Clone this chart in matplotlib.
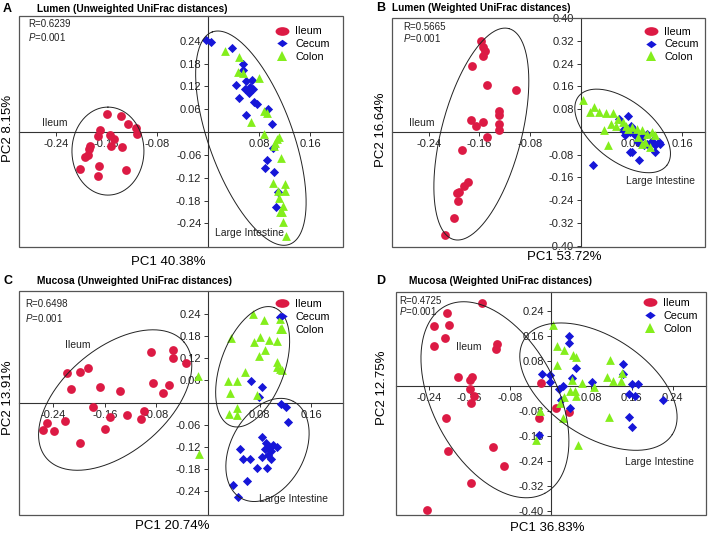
import numpy as np
import matplotlib
matplotlib.use('Agg')
import matplotlib.pyplot as plt
from matplotlib.path import Path
from matplotlib.lines import Line2D
from matplotlib.patches import Rectangle

plt.rcParams['font.family'] = ['Liberation Sans', 'DejaVu Sans']
plt.rcParams['mathtext.fontset'] = 'custom'
plt.rcParams['mathtext.it'] = 'Liberation Sans:italic'
plt.rcParams['mathtext.rm'] = 'Liberation Sans'

RED, BLUE, GREEN = '#dc1a44', '#1616d8', '#84ee1c'

# ---- data (PC1, PC2 scores) ----
a_ileum_x = [-0.159, -0.137, -0.127, -0.114, -0.113, -0.171, -0.173, -0.154, -0.148, -0.153,
             -0.136, -0.186, -0.188, -0.190, -0.194, -0.202, -0.172, -0.173, -0.130]
a_ileum_y = [0.047, 0.043, 0.022, 0.010, -0.004, 0.005, -0.010, -0.008, -0.017, -0.036,
             -0.039, -0.036, -0.045, -0.060, -0.065, -0.097, -0.088, -0.115, -0.099]
a_cecum_x = [-0.003, 0.005, 0.038, 0.054, 0.054, 0.044, 0.059, 0.068, 0.065, 0.058, 0.071, 0.064,
             0.049, 0.072, 0.076, 0.094, 0.059, 0.101, 0.102, 0.093, 0.089, 0.103, 0.110, 0.107]
a_cecum_y = [0.243, 0.236, 0.221, 0.178, 0.163, 0.123, 0.134, 0.137, 0.119, 0.112, 0.112, 0.103,
             0.090, 0.080, 0.075, 0.060, 0.046, 0.021, -0.043, -0.074, -0.095, -0.106, -0.158, -0.198]
a_colon_x = [0.026, 0.049, 0.047, 0.054, 0.079, 0.088, 0.092, 0.067, 0.088, 0.108, 0.111, 0.105,
             0.103, 0.114, 0.102, 0.109, 0.121, 0.121, 0.112, 0.117, 0.113, 0.116, 0.118, 0.122]
a_colon_y = [0.214, 0.198, 0.158, 0.156, 0.143, 0.055, 0.049, 0.027, -0.005, -0.017, -0.012, -0.030,
             -0.037, -0.069, -0.133, -0.155, -0.137, -0.155, -0.173, -0.194, -0.209, -0.209, -0.236, -0.273]

b_ileum_x = [-0.158, -0.154, -0.152, -0.154, -0.171, -0.148, -0.102, -0.129, -0.129, -0.129, -0.129, -0.173,
             -0.165, -0.155, -0.148, -0.187, -0.178, -0.184, -0.192, -0.196, -0.194, -0.200, -0.215]
b_ileum_y = [0.319, 0.299, 0.284, 0.267, 0.231, 0.164, 0.148, 0.072, 0.058, 0.028, 0.005, 0.042,
             0.022, 0.034, -0.017, -0.064, -0.176, -0.190, -0.210, -0.214, -0.245, -0.303, -0.364]
b_cecum_x = [0.061, 0.075, 0.079, 0.070, 0.077, 0.083, 0.096, 0.104, 0.091, 0.099, 0.105,
             0.112, 0.117, 0.123, 0.125, 0.117, 0.081, 0.078, 0.092, 0.019, 0.067, 0.086]
b_cecum_y = [0.046, 0.054, 0.022, -0.011, -0.001, 0.011, -0.019, -0.007, -0.037, -0.048, -0.043,
             -0.031, -0.048, -0.036, -0.043, -0.070, -0.072, -0.070, -0.098, -0.117, 0.008, -0.013]
b_colon_x = [0.003, 0.021, 0.015, 0.029, 0.040, 0.051, 0.037, 0.043, 0.048, 0.056, 0.059, 0.066,
             0.072, 0.080, 0.088, 0.096, 0.104, 0.112, 0.117, 0.109, 0.096, 0.090, 0.101, 0.074]
b_colon_y = [0.111, 0.087, 0.069, 0.069, 0.066, 0.066, 0.005, -0.048, 0.028, 0.022, 0.046, 0.034,
             0.019, 0.016, 0.011, 0.005, -0.007, -0.001, -0.013, -0.054, -0.042, -0.019, -0.036, 0.011]

c_ileum_x = [-0.089, -0.054, -0.054, -0.035, -0.219, -0.198, -0.186, -0.085, -0.060, -0.070, -0.213, -0.168,
             -0.136, -0.179, -0.152, -0.126, -0.099, -0.104, -0.249, -0.222, -0.256, -0.238, -0.160, -0.199]
c_ileum_y = [0.136, 0.142, 0.122, 0.108, 0.079, 0.082, 0.095, 0.054, 0.048, 0.027, 0.036, 0.043,
             0.032, -0.012, -0.040, -0.033, -0.022, -0.045, -0.054, -0.050, -0.074, -0.076, -0.072, -0.110]
c_cecum_x = [0.111, 0.066, 0.083, 0.079, 0.113, 0.120, 0.124, 0.083, 0.090, 0.094, 0.100, 0.106, 0.088,
             0.097, 0.093, 0.083, 0.098, 0.049, 0.054, 0.065, 0.076, 0.092, 0.060, 0.039, 0.046]
c_cecum_y = [0.232, 0.059, 0.043, 0.014, -0.005, -0.013, -0.053, -0.092, -0.110, -0.119, -0.114, -0.119, -0.125,
             -0.132, -0.141, -0.146, -0.153, -0.126, -0.152, -0.153, -0.177, -0.177, -0.212, -0.224, -0.254]
c_colon_x = [0.069, 0.086, 0.111, 0.111, 0.036, 0.071, 0.081, 0.094, 0.107, 0.088, 0.079, 0.107, 0.106,
             0.111, 0.115, 0.057, 0.031, 0.044, 0.034, 0.076, 0.045, 0.033, 0.045, -0.016, -0.014]
c_colon_y = [0.240, 0.224, 0.226, 0.198, 0.174, 0.165, 0.177, 0.169, 0.168, 0.142, 0.127, 0.111, 0.097,
             0.091, 0.088, 0.082, 0.059, 0.059, 0.025, 0.021, -0.015, -0.031, -0.033, 0.071, -0.138]

d_ileum_x = [-0.136, -0.205, -0.230, -0.201, -0.208, -0.230, -0.105, -0.107, -0.183, -0.159, -0.156, -0.159,
             -0.151, -0.158, -0.207, -0.113, -0.202, -0.092, -0.158, -0.243, -0.020, 0.010, 0.035, -0.024]
d_ileum_y = [0.266, 0.236, 0.194, 0.196, 0.154, 0.129, 0.134, 0.118, 0.029, 0.020, 0.029, -0.009,
             -0.031, -0.054, -0.102, -0.195, -0.207, -0.255, -0.309, -0.396, 0.012, -0.071, -0.081, -0.103]
d_cecum_x = [0.035, 0.035, 0.049, -0.018, -0.001, -0.001, 0.041, 0.025, 0.017, 0.082, 0.143,
             0.142, 0.161, 0.171, 0.154, 0.166, 0.222, 0.020, 0.037, 0.154, 0.161, -0.024]
d_cecum_y = [0.162, 0.138, 0.060, 0.038, 0.036, 0.015, 0.026, 0.001, -0.009, 0.015, 0.071,
             0.038, 0.007, 0.007, -0.026, -0.031, -0.044, -0.044, -0.071, -0.097, -0.129, -0.156]
d_colon_x = [0.005, 0.012, 0.026, 0.043, 0.050, 0.012, 0.041, 0.061, 0.117, 0.110, 0.123, 0.140,
             0.139, 0.038, 0.048, 0.049, 0.027, 0.025, 0.114, 0.085, 0.018, -0.022, -0.029, 0.054]
d_colon_y = [0.196, 0.129, 0.116, 0.100, 0.095, 0.068, 0.020, 0.012, 0.084, 0.031, 0.017, 0.042,
             0.017, -0.015, -0.015, -0.031, -0.035, -0.100, -0.097, -0.003, -0.054, -0.078, -0.172, -0.187]

letters = ['A', 'B', 'C', 'D']
titles = ['Lumen (Unweighted UniFrac distances)', 'Lumen (Weighted UniFrac distances)',
          'Mucosa (Unweighted UniFrac distances)', 'Mucosa (Weighted UniFrac distances)']
pc1_labels = ['PC1 40.38%', 'PC1 53.72%', 'PC1 20.74%', 'PC1 36.83%']
pc2_labels = ['PC2 8.15%', 'PC2 16.64%', 'PC2 13.91%', 'PC2 12.75%']
r_values = ['R=0.6239', 'R=0.5665', 'R=0.6498', 'R=0.4725']
p_values = ['0.001', '0.001', '0.001', '0.001']
group_names = ['Ileum', 'Cecum', 'Colon']

xticks_abcd = [[-0.24, -0.16, -0.08, 0.08, 0.16]] * 3 + [[-0.24, -0.16, -0.08, 0.08, 0.16, 0.24]]
yticks_abcd = [[-0.24, -0.18, -0.12, -0.06, 0.06, 0.12, 0.18, 0.24],
               [-0.40, -0.32, -0.24, -0.16, -0.08, 0.08, 0.16, 0.24, 0.32, 0.40],
               [-0.24, -0.18, -0.12, -0.06, 0.06, 0.12, 0.18, 0.24],
               [-0.40, -0.32, -0.24, -0.16, -0.08, 0.08, 0.16, 0.24]]

# ---- layout (pixels at 100 dpi) ----
W, H = 708, 536
frames = [(19, 343, 16, 247), (392, 705, 18, 247), (19, 343, 291, 515), (396, 706, 292, 515)]
xlims = [(-0.298, 0.212), (-0.298, 0.196), (-0.293, 0.209), (-0.305, 0.306)]
ylims = [(-0.302, 0.305), (-0.405, 0.400), (-0.304, 0.302), (-0.412, 0.302)]

# ellipses: centre (data), semi axes (px), angle (deg)
ellipses = [
    [(-0.158, -0.050, 44, 36, 90), (0.067, -0.016, 113, 42, 110)],
    [(-0.157, -0.008, 109, 40, 75.4), (0.066, 0.003, 56, 30, -38)],
    [(-0.144, 0.007, 90, 52, 40), (0.069, 0.097, 63, 32, 70), (0.092, -0.128, 55, 37, 62)],
    [(-0.110, -0.043, 106, 62, -62), (0.094, -0.001, 88, 50, -33)],
]
region_labels = [
    [('Ileum', -0.262, 0.025), ('Large Intestine', 0.011, -0.265)],
    [('Ileum', -0.271, 0.030), ('Large Intestine', 0.071, -0.172)],
    [('Ileum', -0.222, 0.157), ('Large Intestine', 0.079, -0.260)],
    [('Ileum', -0.187, 0.126), ('Large Intestine', 0.146, -0.243)],
]
stat_pos = [(0.028, 0.965, 0.909), (0.036, 0.962, 0.911), (0.019, 0.942, 0.879), (0.010, 0.958, 0.913)]
legend_pos = [(0.787, 0.955), (0.802, 0.962), (0.787, 0.963), (0.794, 0.972)]
letter_pos = [(3, 9), (376, 8), (3, 281), (376, 281)]
title_pos = [(37, 9), (392, 8), (37, 281), (409, 281)]
pc1_pos = [(168, 262), (564, 257), (172, 526), (547, 528)]
pc2_pos = [(8, 128), (381, 130), (8, 398), (382, 388)]

data = [
    [(a_ileum_x, a_ileum_y), (a_cecum_x, a_cecum_y), (a_colon_x, a_colon_y)],
    [(b_ileum_x, b_ileum_y), (b_cecum_x, b_cecum_y), (b_colon_x, b_colon_y)],
    [(c_ileum_x, c_ileum_y), (c_cecum_x, c_cecum_y), (c_colon_x, c_colon_y)],
    [(d_ileum_x, d_ileum_y), (d_cecum_x, d_cecum_y), (d_colon_x, d_colon_y)],
]

circ = Path.unit_circle()
oval = Path(circ.vertices * [1.6, 1.0], circ.codes)
wide_diamond = Path([(-1.4, 0), (0, 1), (1.4, 0), (0, -1), (-1.4, 0)],
                    [Path.MOVETO, Path.LINETO, Path.LINETO, Path.LINETO, Path.CLOSEPOLY])
styles = [dict(marker='o', s=40, color=RED), dict(marker='D', s=22, color=BLUE),
          dict(marker='^', s=40, color=GREEN)]
leg_markers = [(oval, 10, RED), (wide_diamond, 7.5, BLUE), ('^', 7, GREEN)]


def draw_ellipse(ax, cx, cy, a, b, ang):
    t = np.linspace(0, 2 * np.pi, 300)
    c = ax.transData.transform((cx, cy))
    th = np.radians(ang)
    px = c[0] + a * np.cos(t) * np.cos(th) - b * np.sin(t) * np.sin(th)
    py = c[1] + a * np.cos(t) * np.sin(th) + b * np.sin(t) * np.cos(th)
    d = ax.transData.inverted().transform(np.column_stack([px, py]))
    ax.plot(d[:, 0], d[:, 1], color='#222222', lw=0.7, zorder=4)


fig = plt.figure(figsize=(W / 100, H / 100), dpi=100)

for i in range(4):
    l, r, t, b = frames[i]
    ax = fig.add_axes([l / W, 1 - b / H, (r - l) / W, (b - t) / H])
    ax.set_xlim(*xlims[i])
    ax.set_ylim(*ylims[i])

    for (xs, ys), st in zip(data[i], styles):
        ax.scatter(xs, ys, marker=st['marker'], s=st['s'], color=st['color'],
                   linewidths=0, zorder=3)

    # axes crossing at the origin, box around the panel
    for side in ['top', 'right']:
        ax.spines[side].set_visible(False)
    for side in ['left', 'bottom']:
        ax.spines[side].set_position(('data', 0))
        ax.spines[side].set_linewidth(0.8)
        ax.spines[side].set_color('#333333')
        ax.spines[side].set_zorder(2)
    ax.add_patch(Rectangle((0, 0), 1, 1, transform=ax.transAxes, fill=False,
                           lw=0.9, ec='#555555', clip_on=False, zorder=5))
    ax.set_xticks(xticks_abcd[i])
    ax.set_xticklabels(['%.2f' % v for v in xticks_abcd[i]])
    ax.set_yticks(yticks_abcd[i])
    ax.set_yticklabels(['%.2f' % v for v in yticks_abcd[i]])
    ax.tick_params(direction='out', length=3, width=0.7, labelsize=8, pad=2,
                   color='#333333', labelcolor='#222222')

    for e in ellipses[i]:
        draw_ellipse(ax, *e)
    for txt, x, y in region_labels[i]:
        ax.text(x, y, txt, fontsize=7.5, ha='left', va='center', color='#222222', zorder=6)

    sx, sy1, sy2 = stat_pos[i]
    ax.text(sx, sy1, r_values[i], transform=ax.transAxes, fontsize=7, va='center', color='#222222')
    ax.text(sx, sy2, '$P$=' + p_values[i], transform=ax.transAxes, fontsize=7, va='center',
            color='#222222')

    handles = [Line2D([], [], ls='none', marker=m, markersize=ms, color=c, markeredgewidth=0)
               for m, ms, c in leg_markers]
    ax.legend(handles, group_names, loc='upper left', bbox_to_anchor=legend_pos[i],
              frameon=False, fontsize=7.8, borderpad=0, borderaxespad=0,
              handlelength=1.4, handletextpad=0.55, labelspacing=0.25)

    lx, ly = letter_pos[i]
    fig.text(lx / W, 1 - ly / H, letters[i], fontsize=9, fontweight='bold', va='center')
    tx, ty = title_pos[i]
    fig.text(tx / W, 1 - ty / H, titles[i], fontsize=7.3, fontweight='bold', va='center')
    px, py = pc1_pos[i]
    fig.text(px / W, 1 - py / H, pc1_labels[i], fontsize=9.5, ha='center', va='center')
    qx, qy = pc2_pos[i]
    fig.text(qx / W, 1 - qy / H, pc2_labels[i], fontsize=9.5, ha='center', va='center',
             rotation=90)

fig.savefig('out.png', dpi=100)
